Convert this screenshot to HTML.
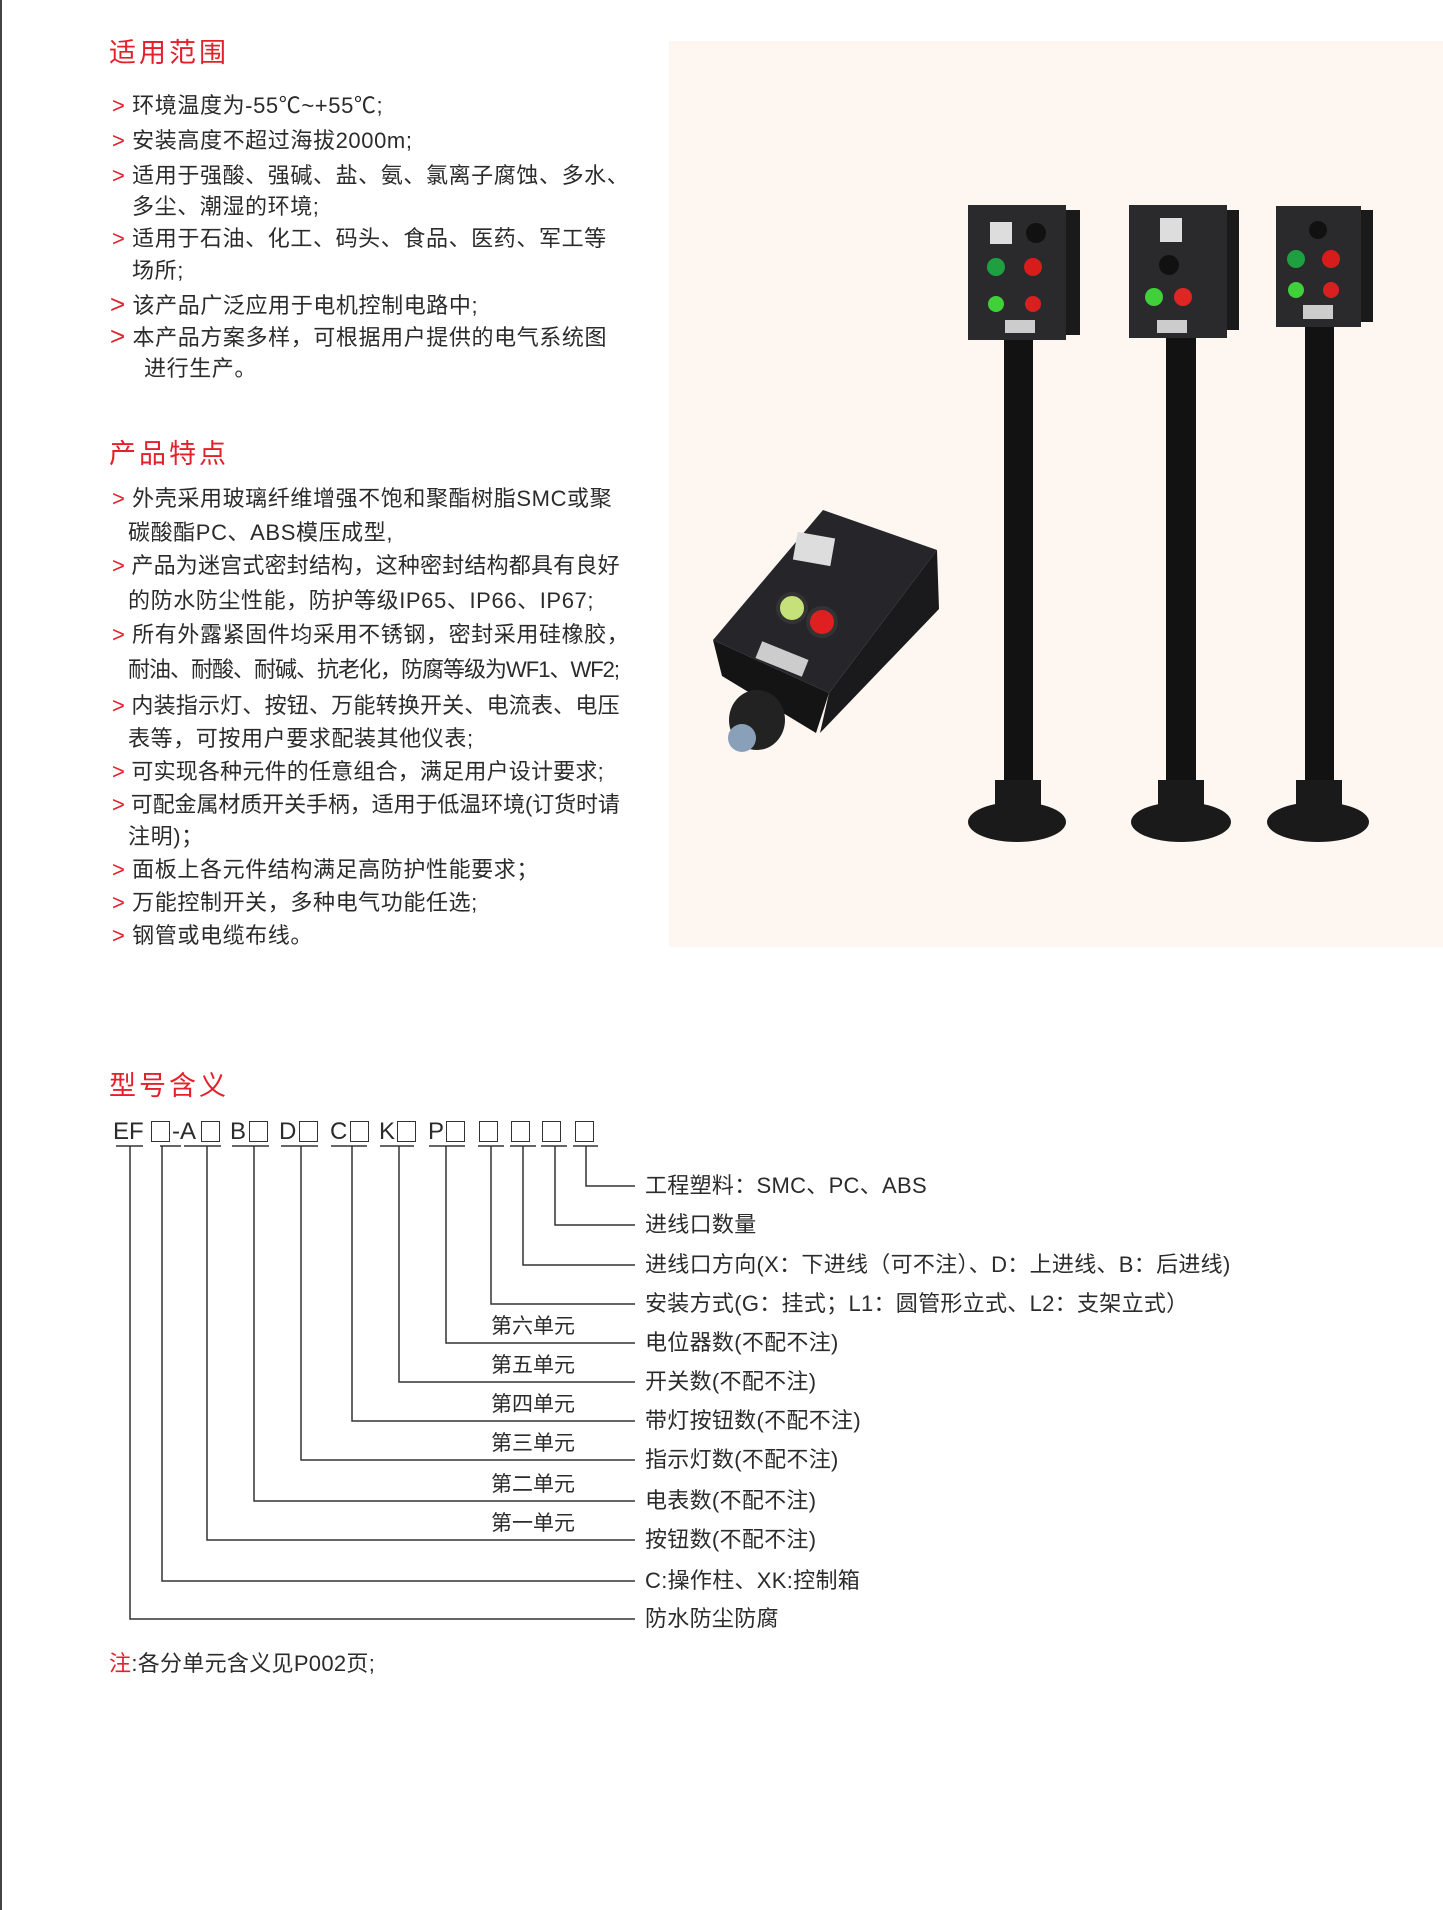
<!DOCTYPE html>
<html><head><meta charset="utf-8"><style>
html,body{margin:0;padding:0;background:#fff}
body{width:1443px;height:1910px;position:relative;overflow:hidden;font-family:"Liberation Sans","Noto Sans CJK SC",sans-serif;color:#2b2b2b}
.t{position:absolute;white-space:nowrap;font-size:22px;line-height:22px;letter-spacing:0.6px}
.h{position:absolute;color:#e4202b;font-size:27px;line-height:27px;letter-spacing:3px}
.b{color:#e4202b}
.d{position:absolute;font-size:21px;line-height:21px;white-space:nowrap}
.l{font-size:22px;line-height:22px;letter-spacing:0.3px}
.bx{position:absolute;width:17px;height:19px;border:1.5px solid #333;top:1121px}
</style></head><body>
<div style="position:absolute;left:0;top:0;width:2px;height:1910px;background:#444"></div>
<div style="position:absolute;left:669px;top:41px;width:774px;height:906px;background:#fdf6f1"></div>

<div class="h" style="left:109px;top:40px">适用范围</div>
<div class="t" style="left:112px;top:95px"><span class="b">&gt;</span> 环境温度为-55℃~+55℃;</div>
<div class="t" style="left:112px;top:130px"><span class="b">&gt;</span> 安装高度不超过海拔2000m;</div>
<div class="t" style="left:112px;top:165px"><span class="b">&gt;</span> 适用于强酸、强碱、盐、氨、氯离子腐蚀、多水、</div>
<div class="t" style="left:132px;top:196px">多尘、潮湿的环境;</div>
<div class="t" style="left:112px;top:228px"><span class="b">&gt;</span> 适用于石油、化工、码头、食品、医药、军工等</div>
<div class="t" style="left:132px;top:260px">场所;</div>
<div class="t" style="left:110px;top:293px"><span class="b" style="font-size:26px">&gt;</span>  该产品广泛应用于电机控制电路中;</div>
<div class="t" style="left:110px;top:325px"><span class="b" style="font-size:26px">&gt;</span>  本产品方案多样，可根据用户提供的电气系统图</div>
<div class="t" style="left:144px;top:358px">进行生产。</div>

<div class="h" style="left:109px;top:441px">产品特点</div>
<div class="t" style="left:112px;top:488px"><span class="b">&gt;</span> 外壳采用玻璃纤维增强不饱和聚酯树脂SMC或聚</div>
<div class="t" style="left:128px;top:522px">碳酸酯PC、ABS模压成型,</div>
<div class="t" style="left:112px;top:555px;letter-spacing:0.2px"><span class="b">&gt;</span> 产品为迷宫式密封结构，这种密封结构都具有良好</div>
<div class="t" style="left:128px;top:590px">的防水防尘性能，防护等级IP65、IP66、IP67;</div>
<div class="t" style="left:112px;top:624px"><span class="b">&gt;</span> 所有外露紧固件均采用不锈钢，密封采用硅橡胶，</div>
<div class="t" style="left:128px;top:659px;letter-spacing:-1px">耐油、耐酸、耐碱、抗老化，防腐等级为WF1、WF2;</div>
<div class="t" style="left:112px;top:695px;letter-spacing:0.2px"><span class="b">&gt;</span> 内装指示灯、按钮、万能转换开关、电流表、电压</div>
<div class="t" style="left:128px;top:728px">表等，可按用户要求配装其他仪表;</div>
<div class="t" style="left:112px;top:761px;letter-spacing:0.2px"><span class="b">&gt;</span> 可实现各种元件的任意组合，满足用户设计要求;</div>
<div class="t" style="left:112px;top:794px;letter-spacing:-0.1px"><span class="b">&gt;</span> 可配金属材质开关手柄，适用于低温环境(订货时请</div>
<div class="t" style="left:128px;top:826px">注明)；</div>
<div class="t" style="left:112px;top:859px"><span class="b">&gt;</span> 面板上各元件结构满足高防护性能要求；</div>
<div class="t" style="left:112px;top:892px"><span class="b">&gt;</span> 万能控制开关，多种电气功能任选;</div>
<div class="t" style="left:112px;top:925px"><span class="b">&gt;</span> 钢管或电缆布线。</div>

<svg style="position:absolute;left:0;top:0" width="1443" height="960">
 <g fill="#1c1c1e">
  <polygon points="713,640 823,510 937,550 829,693" fill="#26262a"/>
  <polygon points="713,640 829,693 816,733 722,676" fill="#141414"/>
  <polygon points="829,693 937,550 939,609 820,733" fill="#1a1a1c"/>
  <rect x="795" y="535" width="38" height="28" fill="#ddd" transform="rotate(10 814 549)"/>
  <circle cx="792" cy="608" r="14" fill="#c6e07a" stroke="#333" stroke-width="4"/>
  <circle cx="822" cy="622" r="14" fill="#e02020" stroke="#333" stroke-width="4"/>
  <rect x="757" y="650" width="50" height="18" fill="#ccc" transform="rotate(22 782 659)"/>
  <ellipse cx="757" cy="720" rx="28" ry="30" fill="#222"/>
  <ellipse cx="742" cy="738" rx="14" ry="14" fill="#8aa0b8"/>
 </g>
 <g>
  <rect x="1004" y="340" width="29" height="460" fill="#121212"/>
  <ellipse cx="1017" cy="822" rx="49" ry="20" fill="#1a1a1a"/>
  <rect x="995" y="780" width="46" height="36" fill="#1a1a1a"/>
  <rect x="968" y="205" width="98" height="135" fill="#2a2a2c"/>
  <rect x="1066" y="210" width="14" height="125" fill="#1a1a1a"/>
  <rect x="990" y="222" width="22" height="22" fill="#ddd"/>
  <circle cx="1036" cy="233" r="10" fill="#111"/>
  <circle cx="996" cy="267" r="9" fill="#1ea040"/>
  <circle cx="1033" cy="267" r="9" fill="#d81c1c"/>
  <circle cx="996" cy="304" r="8" fill="#3fd03a"/>
  <circle cx="1033" cy="304" r="8" fill="#d82020"/>
  <rect x="1005" y="320" width="30" height="13" fill="#ccc"/>

  <rect x="1166" y="338" width="30" height="462" fill="#121212"/>
  <ellipse cx="1181" cy="822" rx="50" ry="20" fill="#1a1a1a"/>
  <rect x="1158" y="780" width="46" height="36" fill="#1a1a1a"/>
  <rect x="1129" y="205" width="98" height="133" fill="#2a2a2c"/>
  <rect x="1227" y="210" width="12" height="120" fill="#1a1a1a"/>
  <rect x="1160" y="218" width="22" height="24" fill="#ddd"/>
  <circle cx="1169" cy="265" r="10" fill="#111"/>
  <circle cx="1154" cy="297" r="9" fill="#3fd03a"/>
  <circle cx="1183" cy="297" r="9" fill="#e02525"/>
  <rect x="1157" y="320" width="30" height="13" fill="#ccc"/>

  <rect x="1305" y="327" width="29" height="473" fill="#121212"/>
  <ellipse cx="1318" cy="822" rx="51" ry="20" fill="#1a1a1a"/>
  <rect x="1296" y="780" width="46" height="36" fill="#1a1a1a"/>
  <rect x="1276" y="206" width="85" height="121" fill="#2a2a2c"/>
  <rect x="1361" y="210" width="12" height="112" fill="#1a1a1a"/>
  <circle cx="1318" cy="230" r="9" fill="#111"/>
  <circle cx="1296" cy="259" r="9" fill="#1ea040"/>
  <circle cx="1331" cy="259" r="9" fill="#d81c1c"/>
  <circle cx="1296" cy="290" r="8" fill="#3fd03a"/>
  <circle cx="1331" cy="290" r="8" fill="#d82020"/>
  <rect x="1303" y="305" width="30" height="14" fill="#ccc"/>
 </g>
</svg>

<div class="h" style="left:109px;top:1073px">型号含义</div>
<div class="d" style="left:113px;top:1120px;font-size:24px;line-height:24px">EF</div>
<div class="d" style="left:172px;top:1120px;font-size:24px;line-height:24px">-A</div>
<div class="d" style="left:230px;top:1120px;font-size:24px;line-height:24px">B</div>
<div class="d" style="left:279px;top:1120px;font-size:24px;line-height:24px">D</div>
<div class="d" style="left:330px;top:1120px;font-size:24px;line-height:24px">C</div>
<div class="d" style="left:379px;top:1120px;font-size:24px;line-height:24px">K</div>
<div class="d" style="left:428px;top:1120px;font-size:24px;line-height:24px">P</div>
<div class="bx" style="left:151px"></div><div class="bx" style="left:201px"></div>
<div class="bx" style="left:249px"></div><div class="bx" style="left:299px"></div>
<div class="bx" style="left:350px"></div><div class="bx" style="left:397px"></div>
<div class="bx" style="left:446px"></div><div class="bx" style="left:479px"></div>
<div class="bx" style="left:511px"></div><div class="bx" style="left:542px"></div>
<div class="bx" style="left:575px"></div>

<svg style="position:absolute;left:0;top:1100px" width="700" height="560">
<g stroke="#333" stroke-width="1.5" fill="none">
 <path d="M116 46H143M160 46H181M184 46H221M232 46H269M281 46H318M331 46H367M380 46H414M429 46H465M478 46H504M510 46H536M541 46H567M573 46H598"/>
 <path d="M586 46V86H635"/>
 <path d="M555 46V125H635"/>
 <path d="M523 46V165H635"/>
 <path d="M491 46V204H635"/>
 <path d="M446 46V243H635"/>
 <path d="M399 46V282H635"/>
 <path d="M352 46V321H635"/>
 <path d="M301 46V360H635"/>
 <path d="M254 46V401H635"/>
 <path d="M207 46V440H635"/>
 <path d="M162 46V481H635"/>
 <path d="M130 46V519H635"/>
</g></svg>

<div class="d l" style="left:645px;top:1175px">工程塑料：SMC、PC、ABS</div>
<div class="d l" style="left:645px;top:1214px">进线口数量</div>
<div class="d l" style="left:645px;top:1254px">进线口方向(X：下进线（可不注）、D：上进线、B：后进线)</div>
<div class="d l" style="left:645px;top:1293px">安装方式(G：挂式；L1：圆管形立式、L2：支架立式）</div>
<div class="d l" style="left:645px;top:1332px">电位器数(不配不注)</div>
<div class="d l" style="left:645px;top:1371px">开关数(不配不注)</div>
<div class="d l" style="left:645px;top:1410px">带灯按钮数(不配不注)</div>
<div class="d l" style="left:645px;top:1449px">指示灯数(不配不注)</div>
<div class="d l" style="left:645px;top:1490px">电表数(不配不注)</div>
<div class="d l" style="left:645px;top:1529px">按钮数(不配不注)</div>
<div class="d l" style="left:645px;top:1570px">C:操作柱、XK:控制箱</div>
<div class="d l" style="left:645px;top:1608px">防水防尘防腐</div>

<div class="d" style="left:491px;top:1316px">第六单元</div>
<div class="d" style="left:491px;top:1355px">第五单元</div>
<div class="d" style="left:491px;top:1394px">第四单元</div>
<div class="d" style="left:491px;top:1433px">第三单元</div>
<div class="d" style="left:491px;top:1474px">第二单元</div>
<div class="d" style="left:491px;top:1513px">第一单元</div>

<div class="d l" style="left:109px;top:1653px"><span class="b">注</span>:各分单元含义见P002页;</div>
</body></html>
